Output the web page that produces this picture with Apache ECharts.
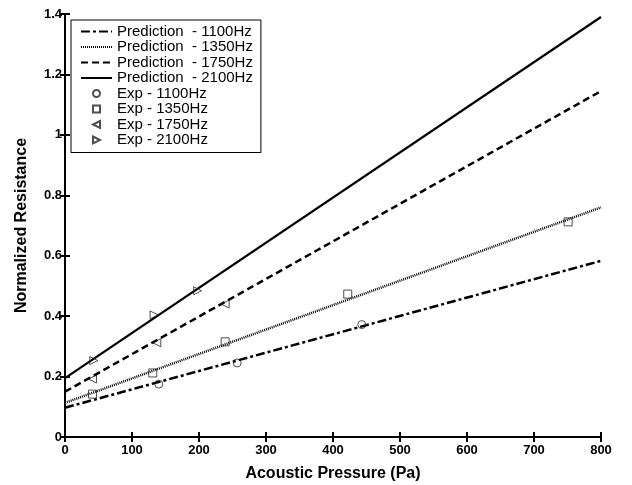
<!DOCTYPE html>
<html>
<head>
<meta charset="utf-8">
<script src="https://cdn.jsdelivr.net/npm/echarts@6/dist/echarts.min.js"></script>
<style>
  html, body { margin: 0; padding: 0; background: #fff; }
  #chart { width: 632px; height: 485px; }
</style>
</head>
<body>
<div id="chart"></div>
<script>
// prediction lines: value at 0 Pa and at 800 Pa
var predX = [0, 800];
var pred1100 = [0.097, 0.583];
var pred1350 = [0.113, 0.760];
var pred1750 = [0.150, 1.145];
var pred2100 = [0.195, 1.390];

// experimental points
var exp1100X = [140, 257, 443];
var exp1100Y = [0.175, 0.245, 0.372];
var exp1350X = [41, 131, 239, 422, 751];
var exp1350Y = [0.142, 0.212, 0.315, 0.473, 0.712];
var exp1750X = [41, 137, 239];
var exp1750Y = [0.192, 0.312, 0.440];
var exp2100X = [43, 133, 198];
var exp2100Y = [0.253, 0.404, 0.484];

function pairs(xs, ys) {
    return xs.map(function (x, i) { return [x, ys[i]]; });
}

var font = 'Liberation Sans, Arial, sans-serif';

function predLine(name, vals, dash, width) {
    return {
        name: name,
        type: 'line',
        data: pairs(predX, vals),
        symbol: 'none',
        silent: true,
        lineStyle: { color: '#000', width: width, type: dash },
        // transparent item colour hides the dot in the legend icon
        itemStyle: { color: 'rgba(0,0,0,0)' },
        z: 2
    };
}

function expPoints(name, xs, ys, symbol) {
    return {
        name: name,
        type: 'scatter',
        data: pairs(xs, ys),
        symbol: symbol,
        symbolSize: 8,
        itemStyle: { color: 'rgba(255,255,255,0)', borderColor: '#222', borderWidth: 1 },
        z: 3
    };
}

var square = 'path://M0,0 L10,0 L10,10 L0,10 Z';
var triLeft = 'path://M10,0 L0,5 L10,10 Z';
var triRight = 'path://M0,0 L10,5 L0,10 Z';

var axisLine = { show: true, lineStyle: { color: '#000', width: 2 } };
var tick = { show: true, inside: true, length: 5, lineStyle: { color: '#000', width: 2 } };
var tickLabel = { fontFamily: font, fontSize: 13, fontWeight: 'bold', color: '#000' };
var titleStyle = { fontFamily: font, fontSize: 16, fontWeight: 'bold', color: '#000' };

echarts.init(document.getElementById('chart')).setOption({
    animation: false,
    backgroundColor: '#fff',
    grid: { left: 65, right: 31, top: 14, bottom: 48, outerBoundsMode: 'none', containLabel: false },
    legend: {
        orient: 'vertical',
        left: 71,
        top: 20,
        padding: [4, 8, 5, 9],
        itemWidth: 31,
        itemHeight: 7,
        itemGap: 0.5,
        borderColor: '#000',
        borderWidth: 1,
        borderRadius: 0,
        backgroundColor: '#fff',
        textStyle: { fontFamily: font, fontSize: 15, color: '#000', lineHeight: 15 },
        data: [
            'Prediction  - 1100Hz', 'Prediction  - 1350Hz',
            'Prediction  - 1750Hz', 'Prediction  - 2100Hz',
            'Exp - 1100Hz', 'Exp - 1350Hz', 'Exp - 1750Hz', 'Exp - 2100Hz'
        ]
    },
    xAxis: [{
        type: 'value',
        min: 0,
        max: 800,
        interval: 100,
        name: 'Acoustic Pressure (Pa)',
        nameLocation: 'middle',
        nameGap: 29,
        nameTextStyle: titleStyle,
        axisLine: axisLine,
        axisTick: tick,
        axisLabel: Object.assign({ margin: 7 }, tickLabel),
        splitLine: { show: false }
    }, {
        type: 'value',
        position: 'top',
        min: 0,
        max: 800,
        interval: 100,
        axisLine: axisLine,
        axisTick: tick,
        axisLabel: { show: false },
        splitLine: { show: false }
    }],
    yAxis: [{
        type: 'value',
        min: 0,
        max: 1.4,
        interval: 0.2,
        name: 'Normalized Resistance',
        nameLocation: 'middle',
        nameGap: 35,
        nameTextStyle: titleStyle,
        axisLine: axisLine,
        axisTick: tick,
        axisLabel: Object.assign({ margin: 3 }, tickLabel),
        splitLine: { show: false }
    }, {
        type: 'value',
        position: 'right',
        min: 0,
        max: 1.4,
        interval: 0.2,
        axisLine: axisLine,
        axisTick: tick,
        axisLabel: { show: false },
        splitLine: { show: false }
    }],
    series: [
        predLine('Prediction  - 1100Hz', pred1100, [9, 3, 3, 3], 2.5),
        predLine('Prediction  - 1350Hz', pred1350, [1, 1], 2.5),
        predLine('Prediction  - 1750Hz', pred1750, [7, 4], 2.5),
        predLine('Prediction  - 2100Hz', pred2100, 'solid', 2.2),
        expPoints('Exp - 1100Hz', exp1100X, exp1100Y, 'circle'),
        expPoints('Exp - 1350Hz', exp1350X, exp1350Y, square),
        expPoints('Exp - 1750Hz', exp1750X, exp1750Y, triLeft),
        expPoints('Exp - 2100Hz', exp2100X, exp2100Y, triRight)
    ]
});
</script>
</body>
</html>
